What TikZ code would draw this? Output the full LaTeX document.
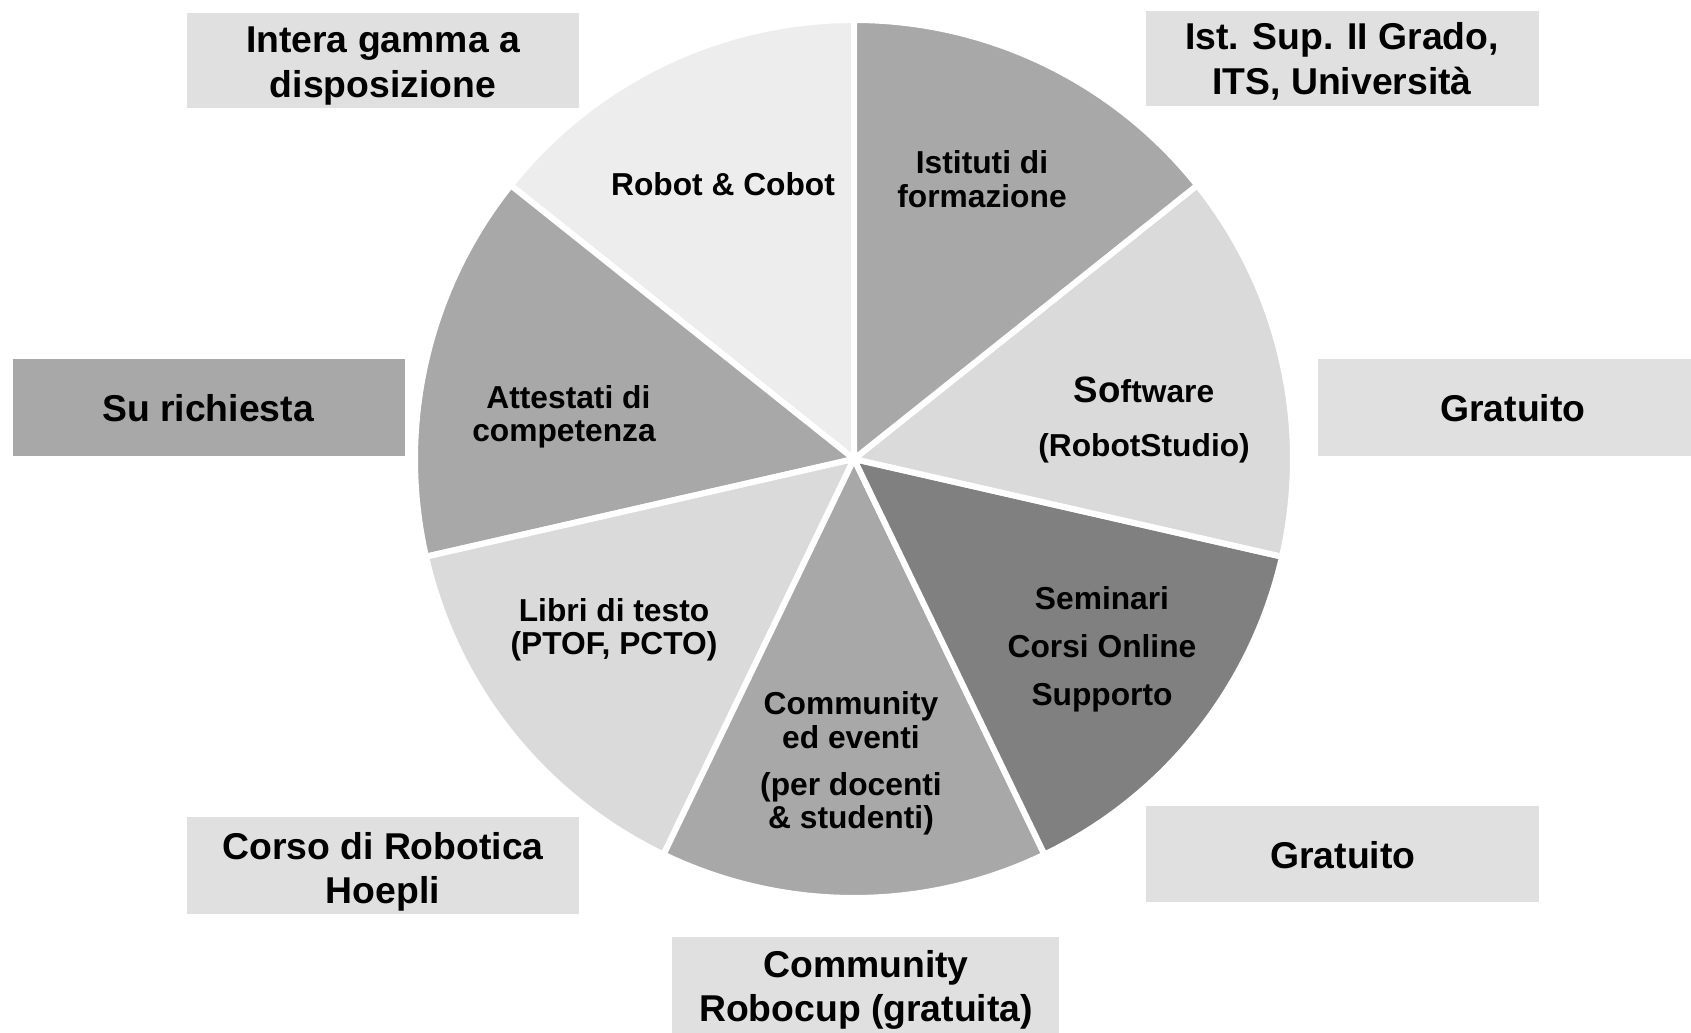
\documentclass[tikz,border=0pt]{standalone}
\usepackage{fontspec}
\setmainfont{Liberation Sans}
\definecolor{cRobot}{HTML}{EDEDED}
\definecolor{cMid}{HTML}{A8A8A8}
\definecolor{cLight}{HTML}{DADADA}
\definecolor{cDark}{HTML}{808080}
\definecolor{cBox}{HTML}{E0E0E0}
\tikzset{
  slice/.style={draw=white, line width=4.5pt, line join=miter},
  boxbg/.style={fill=cBox, draw=none},
  boxtxt/.style={align=center, font=\bfseries\fontsize{28}{33.5}\selectfont, inner sep=0pt},
  slicetxt/.style={align=center, font=\bfseries\fontsize{23.8}{25}\selectfont, inner sep=0pt},
}
\begin{document}
\begin{tikzpicture}[x=0.75pt,y=0.75pt]
\clip (0,0) rectangle (1691,1032);
\fill[white] (0,0) rectangle (1691,1032);
\coordinate (c) at (854,573);
\def\R{439}
% slices
\foreach \i/\col in {0/cRobot,1/cMid,2/cLight,3/cMid,4/cDark,5/cLight,6/cMid}{
  \pgfmathsetmacro{\a}{90+\i*360/7}
  \pgfmathsetmacro{\b}{90+(\i+1)*360/7}
  \filldraw[slice, fill=\col] (c) -- ++(\a:\R) arc[start angle=\a, end angle=\b, radius=\R] -- cycle;
}
% label boxes
\fill[boxbg] (187,924) rectangle (579,1019);
\fill[boxbg] (1146,926) rectangle (1539,1021);
\fill[cMid] (13,576) rectangle (405,673);
\fill[boxbg] (1318,576) rectangle (1710,673);
\fill[boxbg] (1146,130) rectangle (1539,226);
\fill[boxbg] (187,118) rectangle (579,215);
\fill[boxbg] (672,-1) rectangle (1059,95);
% box texts
\node[boxtxt] (tIntera) at (383,966) {Intera gamma a\\disposizione};
\node[boxtxt] (tIst) at (1342,970.5) {Ist. Sup. II Grado,\\ITS, Università};
\node[boxtxt] (tSu) at (208,624) {Su richiesta};
\node[boxtxt] (tGr1) at (1513,624) {Gratuito};
\node[boxtxt] (tGr2) at (1343,177) {Gratuito};
\node[boxtxt] (tCorso) at (383,160) {Corso di Robotica\\Hoepli};
\node[boxtxt] (tRobocup) at (866,42) {Community\\Robocup (gratuita)};
% slice texts
\node[slicetxt] (sRobot) at (723,848) {Robot \& Cobot};
\node[slicetxt] (sIst) at (982,853) {Istituti di\\formazione};
\node[slicetxt] (sAtt) at (564,615) {\ Attestati di\\competenza};
\node[slicetxt] (sLibri) at (614,402) {Libri di testo\\(PTOF, PCTO)};
\node[slicetxt] (sComm1) at (851,312) {Community\\ed eventi};
\node[slicetxt] (sComm2) at (851,228) {(per docenti\\\& studenti)};
\node[slicetxt, font=\bfseries\fontsize{23.8}{36}\selectfont] (sSemi) at (1102,383) {Seminari\\Corsi Online\\Supporto};
\node[slicetxt, font=\bfseries\fontsize{23.8}{40}\selectfont] (sSoft) at (1144,612) {{\fontsize{27.5}{40}\selectfont So}ftware\\(RobotStudio)};
\end{tikzpicture}
\end{document}
